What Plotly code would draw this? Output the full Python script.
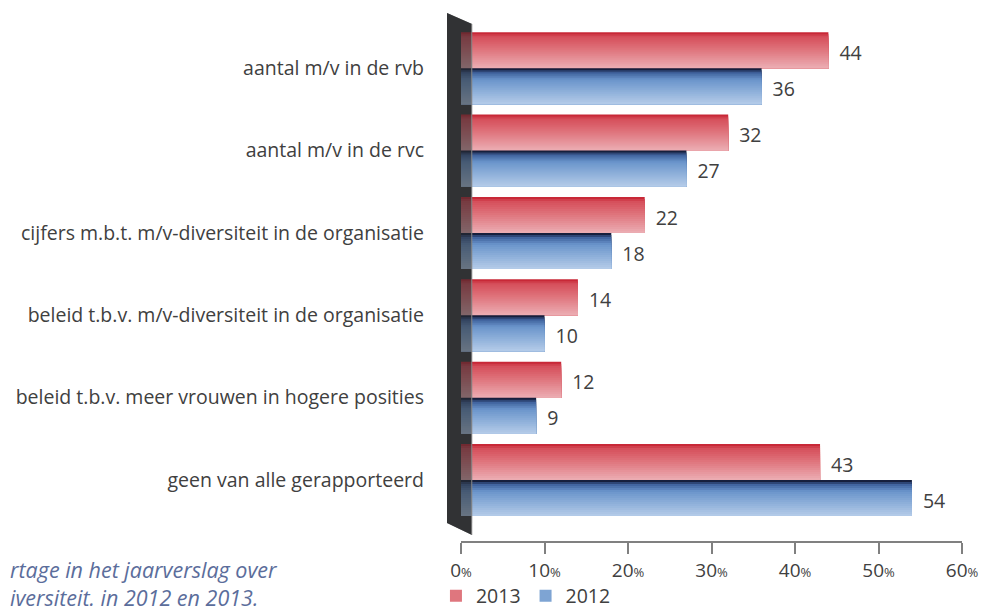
import plotly.graph_objects as go

categories = [
    "aantal m/v in de rvb",
    "aantal m/v in de rvc",
    "cijfers m.b.t. m/v-diversiteit in de organisatie",
    "beleid t.b.v. m/v-diversiteit in de organisatie",
    "beleid t.b.v. meer vrouwen in hogere posities",
    "geen van alle gerapporteerd",
]
values_2013 = [44, 32, 22, 14, 12, 43]
values_2012 = [36, 27, 18, 10, 9, 54]
tick_values = [0, 10, 20, 30, 40, 50, 60]
tick_labels = ["0", "10", "20", "30", "40", "50", "60"]
caption_lines = ["rtage in het jaarverslag over", "iversiteit. in 2012 en 2013."]

FONT = "Open Sans"
TXT = "#404040"

red_stops = [(0, (196, 28, 44)), (0.12, (213, 78, 90)), (0.45, (222, 112, 121)), (1, (236, 174, 180))]
blue_stops = [(0, (10, 12, 32)), (0.12, (62, 96, 156)), (0.32, (106, 149, 203)), (1, (181, 204, 233))]


def grad(stops, t):
    for (t0, c0), (t1, c1) in zip(stops[:-1], stops[1:]):
        if t <= t1:
            f = (t - t0) / (t1 - t0) if t1 > t0 else 0
            c = [round(a + (b - a) * f) for a, b in zip(c0, c1)]
            return "rgb(%d,%d,%d)" % tuple(c)
    return "rgb(%d,%d,%d)" % stops[-1][1]


idx = list(range(len(categories)))
BW = 0.437
N = 18
h = BW / N

fig = go.Figure()
series = [("2013", values_2013, -BW, red_stops), ("2012", values_2012, 0.0, blue_stops)]
for name, vals, off, stops in series:
    # gradient: each band runs from its own top down to the bar bottom,
    # later bands cover the lower part of earlier ones (no seams)
    for k in range(N):
        fig.add_trace(go.Bar(
            x=vals, y=idx, orientation="h",
            offset=off + k * h, width=BW - k * h,
            marker=dict(color=grad(stops, (k + 0.5) / N), line=dict(width=0)),
            showlegend=False, hoverinfo="skip",
        ))
    # value labels
    fig.add_trace(go.Scatter(
        x=vals, y=[i + off + BW / 2 + 0.06 for i in idx],
        mode="markers+text", text=[str(v) for v in vals],
        textposition="middle right",
        marker=dict(size=16, opacity=0),
        textfont=dict(family=FONT, size=19.5, color=TXT),
        showlegend=False, hoverinfo="skip",
    ))

# legend entries
for name, vals, off, stops in series:
    fig.add_trace(go.Bar(
        x=[None], y=[None], orientation="h", name=name,
        marker=dict(color=grad(stops, 0.5), line=dict(width=0)),
    ))

# 3D wall (paper coordinates)
wall = "M -0.0279 1.0272 L 0.0220 1.0058 L 0.0220 0.0117 L -0.0279 0.0350 Z"
shapes = [
    dict(type="path", path=wall, xref="paper", yref="paper", fillcolor="#3a3b3d",
         line=dict(width=0), layer="below"),
    dict(type="path", path=wall, xref="paper", yref="paper", fillcolor="#2a2b2d",
         opacity=0.55, line=dict(width=0), layer="above"),
    dict(type="line", x0=0.0215, x1=0.0215, y0=1.0058, y1=0.0117, xref="paper", yref="paper",
         line=dict(color="#8a8a8a", width=1), layer="above"),
]

annotations = [
    dict(text="<i>" + "<br>".join(caption_lines) + "</i>", x=-0.904, y=-0.023,
         xref="paper", yref="paper", xanchor="left", yanchor="top", align="left",
         showarrow=False, font=dict(family=FONT, size=21.5, color="#5b6d9b")),
]

# the page has an 8px body margin: the figure is sized so that it ends at the window edge
fig.update_layout(
    width=979, height=598,
    margin=dict(l=453, r=25, t=19, b=65, autoexpand=False),
    paper_bgcolor="white", plot_bgcolor="white",
    barmode="overlay",
    font=dict(family=FONT, size=19.5, color=TXT),
    shapes=shapes,
    annotations=annotations,
    showlegend=True,
    legend=dict(orientation="h", x=-0.05, y=-0.069, xanchor="left", yanchor="top",
                font=dict(family=FONT, size=19.5, color=TXT), itemwidth=30,
                traceorder="normal", bgcolor="rgba(0,0,0,0)"),
    xaxis=dict(range=[0, 60], tickvals=tick_values,
               ticktext=[t + "<span style='font-size:13px'>%</span>" for t in tick_labels],
               showgrid=False, zeroline=False, showline=True, linecolor="#808080", linewidth=1.5,
               ticks="outside", ticklen=11, tickcolor="#808080", tickwidth=1.5,
               tickfont=dict(family=FONT, size=19, color=TXT), fixedrange=True,
               automargin=False),
    yaxis=dict(range=[5.74, -0.5], tickvals=idx, ticktext=categories,
               showgrid=False, zeroline=False, showline=False, ticks="",
               ticklabelstandoff=36, automargin=False,
               tickfont=dict(family=FONT, size=19.5, color=TXT), fixedrange=True),
)

fig.write_html("out.html")
